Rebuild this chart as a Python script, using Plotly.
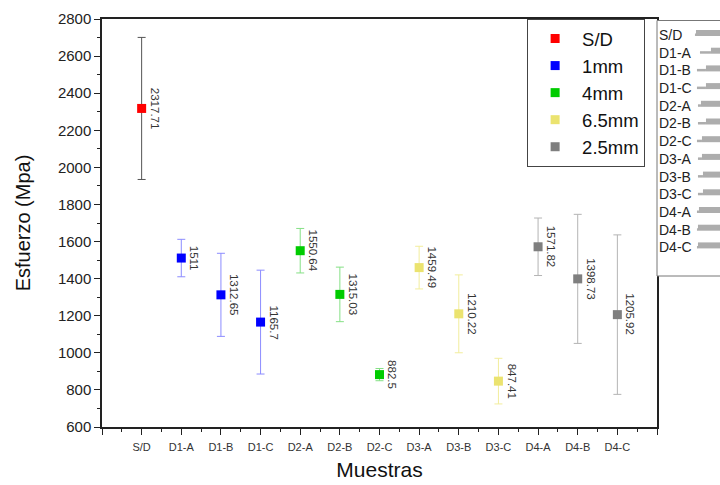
import plotly.graph_objects as go

categories = ["S/D", "D1-A", "D1-B", "D1-C", "D2-A", "D2-B", "D2-C",
              "D3-A", "D3-B", "D3-C", "D4-A", "D4-B", "D4-C"]
means = [2317.71, 1511, 1312.65, 1165.7, 1550.64, 1315.03, 882.5,
         1459.49, 1210.22, 847.41, 1571.82, 1398.73, 1205.92]
errors = [383, 101, 224, 280, 120, 147, 33, 115, 210, 123, 155, 348, 430]
groups = ["S/D", "1mm", "1mm", "1mm", "4mm", "4mm", "4mm",
          "6.5mm", "6.5mm", "6.5mm", "2.5mm", "2.5mm", "2.5mm"]

group_names = ["S/D", "1mm", "4mm", "6.5mm", "2.5mm"]
marker_colors = ["#ff0000", "#0000ff", "#00cc00", "#ebe36f", "#7f7f7f"]
error_colors = ["#555555", "#8c8cff", "#85e085", "#f2ed9c", "#b4b4b4"]

# mini legend list (right side)
mini_labels = categories

FONT = "Liberation Sans, Arial, sans-serif"

L, R, T, B = 101.5, 657.0, 19.0, 427.0
PW, PH = R - L, B - T


def px2paper_x(px):
    return (px - L) / PW


def px2paper_y(py):
    return (B - py) / PH


fig = go.Figure()
xs_all = list(range(len(categories)))
for g, mc, ec in zip(group_names, marker_colors, error_colors):
    idx = [i for i, gg in enumerate(groups) if gg == g]
    fig.add_trace(go.Scatter(
        x=[xs_all[i] for i in idx],
        y=[means[i] for i in idx],
        mode="markers",
        name=g,
        marker=dict(symbol="square", size=9, color=mc),
        error_y=dict(type="data", array=[errors[i] for i in idx],
                     color=ec, thickness=1, width=4),
    ))

for i, v in enumerate(means):
    fig.add_annotation(x=xs_all[i], y=v, text=format(v, "g"), showarrow=False,
                       textangle=90, xanchor="left", yanchor="middle", xshift=5,
                       font=dict(size=11.5, color="#333333", family=FONT))

# mini legend box on the right
fig.add_shape(type="rect", xref="paper", yref="paper", x0=1.0, x1=1.25,
              y0=px2paper_y(276), y1=px2paper_y(20.5), fillcolor="white",
              line=dict(color="#777777", width=1), layer="above")
thin_starts = [695, 700, 697, 697, 698, 698, 697, 698, 698, 698, 697, 697, 697]
thin_lens = [1, 11, 9, 9, 3, 8, 5, 4, 5, 5, 2, 1, 1]
for k, lab in enumerate(mini_labels):
    ypix = 35 + 17.7 * k
    fig.add_annotation(xref="paper", yref="paper", x=px2paper_x(657), y=px2paper_y(ypix),
                       text=lab, showarrow=False, xanchor="left", yanchor="middle",
                       font=dict(size=14, color="#222222", family=FONT))
    x_thin0 = thin_starts[k]
    x_thick0 = x_thin0 + thin_lens[k]
    fig.add_shape(type="rect", xref="paper", yref="paper",
                  x0=px2paper_x(x_thin0), x1=px2paper_x(x_thick0),
                  y0=px2paper_y(ypix + 1), y1=px2paper_y(ypix - 1.5),
                  fillcolor="#adadad", line=dict(width=0), layer="above")
    fig.add_shape(type="rect", xref="paper", yref="paper",
                  x0=px2paper_x(x_thick0), x1=px2paper_x(725),
                  y0=px2paper_y(ypix + 1), y1=px2paper_y(ypix - 5),
                  fillcolor="#adadad", line=dict(width=0), layer="above")

fig.update_layout(
    width=720, height=485,
    margin=dict(l=L, r=720 - R, t=T, b=485 - B, autoexpand=False),
    paper_bgcolor="white", plot_bgcolor="white",
    font=dict(family=FONT, color="#222222"),
    showlegend=True,
    legend=dict(x=px2paper_x(527), y=1.0, xanchor="left", yanchor="top",
                bgcolor="white", bordercolor="#444444", borderwidth=1,
                font=dict(size=18.5, color="#111111", family=FONT),
                itemwidth=44, tracegroupgap=0),
)
fig.update_xaxes(
    automargin=False,
    range=[-1, 13], tickmode="array",
    tickvals=list(range(-1, 14)),
    ticktext=[""] + categories + [""],
    ticks="outside", ticklen=6, tickwidth=1.2, tickcolor="#222222",
    tickfont=dict(size=11, color="#333333"), ticklabelstandoff=3,
    minor=dict(dtick=0.5, tick0=-0.5, ticks="outside", ticklen=3, tickcolor="#222222", tickwidth=1.2),
    showline=True, linecolor="#222222", linewidth=1.5, mirror=True,
    showgrid=False, zeroline=False,
    title=dict(text="Muestras", font=dict(size=21, color="#111111"), standoff=10),
)
fig.update_yaxes(
    automargin=False,
    range=[600, 2800], dtick=200, tick0=600,
    ticks="outside", ticklen=6, tickwidth=1.2, tickcolor="#222222",
    tickfont=dict(size=15, color="#222222"),
    minor=dict(dtick=100, ticks="outside", ticklen=3, tickcolor="#222222", tickwidth=1.2),
    showline=True, linecolor="#222222", linewidth=1.5, mirror=True,
    showgrid=False, zeroline=False,
    title=dict(text="Esfuerzo (Mpa)", font=dict(size=20, color="#111111"), standoff=22),
)

fig.write_html("out.html", config={"displayModeBar": False},
               post_script="document.body.style.margin='0px';")
